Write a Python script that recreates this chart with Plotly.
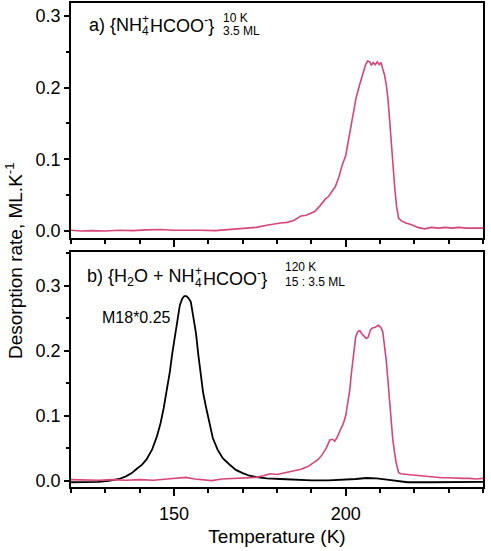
import plotly.graph_objects as go
from plotly.subplots import make_subplots

# panel a) NH4+HCOO- deposited at 10 K
temp_a = [120, 123, 126, 130, 134, 138, 142, 146, 150, 154, 158, 162, 165, 168, 171, 174, 177, 179,
          181, 183, 185, 187, 188.5, 190, 191, 192.5, 194, 195, 196, 197, 198, 199, 200, 201, 202, 203,
          204, 205, 205.8, 206.4, 207, 207.5, 208, 208.6, 209.2, 209.8, 210.3, 210.8, 211.3, 211.8,
          212.3, 212.8, 213.3, 213.8, 214.3, 214.8, 215.4, 216.2, 217.5, 219, 221, 223, 225, 227, 229,
          231, 233, 235, 237, 240]
rate_a = [0.001, 0.000, 0.0005, 0.000, 0.001, 0.0005, 0.0015, 0.002, 0.001, 0.0015, 0.001, 0.0005,
          0.0015, 0.0025, 0.003, 0.005, 0.008, 0.010, 0.011, 0.012, 0.015, 0.021, 0.022, 0.025, 0.027,
          0.035, 0.044, 0.048, 0.055, 0.062, 0.075, 0.092, 0.105, 0.130, 0.159, 0.185, 0.203, 0.218,
          0.232, 0.237, 0.236, 0.231, 0.235, 0.232, 0.236, 0.232, 0.235, 0.226, 0.218, 0.205, 0.185,
          0.155, 0.120, 0.088, 0.060, 0.035, 0.018, 0.014, 0.011, 0.009, 0.005, 0.003, 0.005, 0.004,
          0.005, 0.004, 0.005, 0.004, 0.004, 0.004]

# panel b) H2O + NH4+HCOO- at 120 K
temp_b = [120, 124, 128, 132, 136, 140, 144, 148, 151, 153.5, 156, 159, 161, 164, 167, 170, 174, 176,
          178, 180, 181, 183, 185, 187, 189, 190.7, 192, 193.1, 194.3, 195.4, 196.2, 196.8, 197.6,
          198.5, 199.3, 200, 200.6, 201.2, 201.6, 202, 202.5, 202.9, 203.5, 204.1, 204.7, 205.4, 206,
          206.6, 207.2, 207.8, 208.6, 209.5, 210.2, 210.8, 211.3, 211.8, 212.3, 212.7, 213.2, 213.7,
          214.2, 214.7, 215.4, 216, 218, 220, 222, 224, 226, 228, 230, 232, 234, 236, 238, 240]
rate_b = [0.002, 0.001, 0.001, 0.002, 0.001, 0.002, 0.001, 0.003, 0.004, 0.0055, 0.003, 0.001,
          0.0005, 0.003, 0.004, 0.005, 0.0055, 0.008, 0.011, 0.010, 0.011, 0.013, 0.015, 0.018, 0.022,
          0.028, 0.033, 0.040, 0.050, 0.063, 0.064, 0.061, 0.068, 0.079, 0.088, 0.100, 0.118, 0.140,
          0.162, 0.182, 0.205, 0.221, 0.229, 0.231, 0.226, 0.222, 0.219, 0.221, 0.232, 0.235, 0.236,
          0.239, 0.236, 0.229, 0.210, 0.186, 0.155, 0.125, 0.090, 0.065, 0.045, 0.028, 0.013, 0.011,
          0.010, 0.009, 0.008, 0.006, 0.0055, 0.005, 0.005, 0.004, 0.004, 0.004, 0.003, 0.004]

# water (mass 18) scaled by 0.25
temp_h2o = [120, 124, 128, 131, 134, 136, 137.7, 139, 140.7, 142, 143.6, 145, 146.1, 147, 148, 148.8,
            149.5, 150.3, 151, 151.7, 152.4, 153, 153.6, 154.2, 154.9, 155.6, 156.4, 157.1, 157.8,
            158.5, 159.3, 160.3, 161.3, 162.7, 164.2, 166, 168, 170, 172, 174, 177, 181, 185, 190,
            195, 200, 203, 206, 209, 212, 215, 218, 225, 232, 240]
rate_h2o = [-0.002, -0.002, -0.0015, 0.000, 0.003, 0.007, 0.012, 0.018, 0.025, 0.033, 0.048, 0.068,
            0.089, 0.112, 0.140, 0.168, 0.196, 0.225, 0.252, 0.270, 0.280, 0.284, 0.284, 0.281, 0.275,
            0.255, 0.227, 0.193, 0.160, 0.135, 0.114, 0.088, 0.066, 0.048, 0.035, 0.026, 0.017, 0.012,
            0.008, 0.006, 0.004, 0.003, 0.002, 0.001, 0.001, 0.002, 0.003, 0.0045, 0.004, 0.002, 0.000,
            -0.002, -0.002, -0.0015, -0.0015]

y_ticks = [0.0, 0.1, 0.2, 0.3]
pink = '#d6457a'
font = 'Liberation Sans, Arial, sans-serif'

W, H = 491, 551
L, R, T, B = 71, 8, 3, 64

fig = make_subplots(rows=2, cols=1, shared_xaxes=True, vertical_spacing=0.029)

fig.add_trace(go.Scatter(x=temp_a, y=rate_a, mode='lines', line=dict(color=pink, width=1.6),
                         showlegend=False), row=1, col=1)
fig.add_trace(go.Scatter(x=temp_h2o, y=rate_h2o, mode='lines', line=dict(color='black', width=1.8),
                         showlegend=False), row=2, col=1)
fig.add_trace(go.Scatter(x=temp_b, y=rate_b, mode='lines', line=dict(color=pink, width=1.6),
                         showlegend=False), row=2, col=1)

axis_style = dict(showline=True, linecolor='black', linewidth=1.5, mirror=True, showgrid=False,
                  zeroline=False, ticks='outside', tickcolor='black', tickwidth=1.5, automargin=False,
                  tickfont=dict(size=18, color='black'))

fig.update_xaxes(range=[120, 240], tickvals=[150, 200], ticklen=7, ticklabelstandoff=3,
                 minor=dict(dtick=10, tick0=120, ticks='outside', ticklen=4, tickcolor='black', tickwidth=1.5),
                 **axis_style)
fig.update_xaxes(title=dict(text='Temperature (K)', font=dict(size=19, color='black'), standoff=6), row=2, col=1)
fig.update_yaxes(tickvals=y_ticks, tickformat='.1f', ticklen=5,
                 minor=dict(dtick=0.05, tick0=0, ticks='outside', ticklen=3, tickcolor='black', tickwidth=1.5),
                 **axis_style)
fig.update_yaxes(range=[-0.0098, 0.318], row=1, col=1)
fig.update_yaxes(range=[-0.0093, 0.3516], row=2, col=1)


# place a text label by pixel position inside the figure
def label(text, px, py, size, anchor='left'):
    fig.add_annotation(xref='paper', yref='paper', x=(px - L) / (W - L - R), y=(H - B - py) / (H - T - B),
                       xanchor=anchor, yanchor='middle', text=text, showarrow=False,
                       font=dict(size=size, color='black'))


# a) {NH4+HCOO-} with stacked charge/index and stacked conditions
label('a) {NH', 87, 25, 18)
label('+', 140, 19, 12)
label('4', 140, 31, 12)
label('HCOO<sup>-</sup>}', 148, 25, 18)
label('10 K', 221, 18, 12)
label('3.5 ML', 221, 31, 12)

# b) {H2O + NH4+HCOO-}
label('b) {H<sub>2</sub>O + NH', 85, 277, 18)
label('+', 193, 271, 12)
label('4', 193, 283, 12)
label('HCOO<sup>-</sup>}', 201, 277, 18)
label('120 K', 283, 267, 12)
label('15 : 3.5 ML', 283, 282, 12)

label('M18*0.25', 100, 317, 16)

fig.add_annotation(xref='paper', yref='paper', x=(14 - L) / (W - L - R), y=(H - B - 261) / (H - T - B),
                   xanchor='center', yanchor='middle', text='Desorption rate, ML.K<sup>-1</sup>',
                   textangle=-90, showarrow=False, font=dict(size=19, color='black'))

fig.update_layout(
    template='plotly_white',
    font=dict(family=font, color='black'),
    width=W,
    height=H,
    margin=dict(l=L, r=R, t=T, b=B, autoexpand=False),
    paper_bgcolor='white',
    plot_bgcolor='white',
)

fig.write_html('out.html', config={'displayModeBar': False},
               post_script="document.body.style.margin='0';")
